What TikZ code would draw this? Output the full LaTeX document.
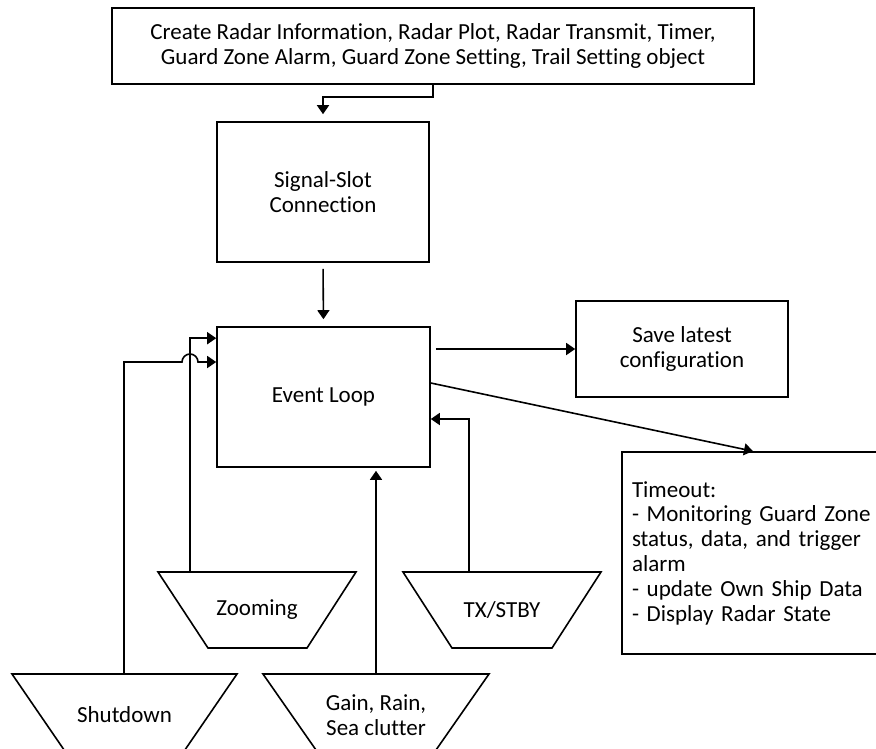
\documentclass[tikz,border=0pt]{standalone}
\usepackage{fontspec}
\setmainfont[Ligatures=NoCommon]{Carlito}
\usetikzlibrary{arrows.meta}
\begin{document}
\begin{tikzpicture}[x=1pt,y=-1pt,
  every node/.style={font=\fontsize{23}{24.8}\selectfont},
  box/.style={draw,line width=1.6pt,rectangle,inner sep=0pt,align=center},
  conn/.style={line width=1.6pt,-{Triangle[length=9pt,width=12pt]}},
  trap/.style={draw,line width=1.6pt,line join=miter}]
\clip (0,0) rectangle (876,748);
\fill[white] (0,0) rectangle (876,748);
% boxes
\node[box,minimum width=642pt,minimum height=76pt] (top) at (433,46)
  {Create Radar Information, Radar Plot, Radar Transmit, Timer,\\Guard Zone Alarm, Guard Zone Setting, Trail Setting object};
\node[box,minimum width=212pt,minimum height=140pt] (sig) at (323,192) {Signal-Slot\\Connection};
\node[box,minimum width=213pt,minimum height=140pt] (ev) at (323.5,397) {Event Loop};
\node[box,minimum width=212pt,minimum height=96pt] (save) at (682,349) {Save latest\\configuration};
\node[box,minimum width=270pt,minimum height=202pt,inner xsep=10pt,text width=250pt,align=left] (tout) at (757,553)
  {Timeout:\\- Monitoring Guard Zone\\status, data, and trigger\\alarm\\- update Own Ship Data\\- Display Radar State};
% trapezoids
\draw[trap] (158,572) -- (356,572) -- (307,648) -- (208,648) -- cycle;
\node (zoom) at (257,610) {Zooming};
\coordinate (zoomc) at (190,572);
\draw[trap] (403,572) -- (601,572) -- (552,648) -- (452,648) -- cycle;
\node (tx) at (502,610) {TX/STBY};
\coordinate (txc) at (469,572);
\draw[trap] (12,674) -- (237,674) -- (178,760) -- (71,760) -- cycle;
\node (shut) at (124.5,715) {Shutdown};
\coordinate (shutc) at (124,674);
\draw[trap] (263,674) -- (489,674) -- (429,760) -- (323,760) -- cycle;
\node[align=center] (gain) at (376,715) {Gain, Rain,\\Sea clutter};
\coordinate (gainc) at (376,674);
\coordinate (hop) at (190,362);
% connectors
\draw[conn,shorten >=7pt] (top.south) -- ++(0,12) -| (sig.north);
\draw[conn,shorten <=6pt,shorten >=7pt] (sig.south) -- (ev.north);
\draw[conn,shorten <=5pt] (ev.east |- save.west) -- (save.west);
\draw[conn] ([yshift=14pt]ev.east) -- ([xshift=-4pt]tout.north);
\draw[conn] (txc) |- ([yshift=-22pt]ev.east);
\draw[conn,shorten >=3pt] (gainc) -- (gainc |- ev.south);
\draw[conn] (zoomc) |- ([yshift=-12pt]ev.north west);
\draw[conn] (shutc) |- ([xshift=-8pt]hop) arc[start angle=180,end angle=0,radius=8pt] -- (ev.west |- hop);
\end{tikzpicture}
\end{document}
